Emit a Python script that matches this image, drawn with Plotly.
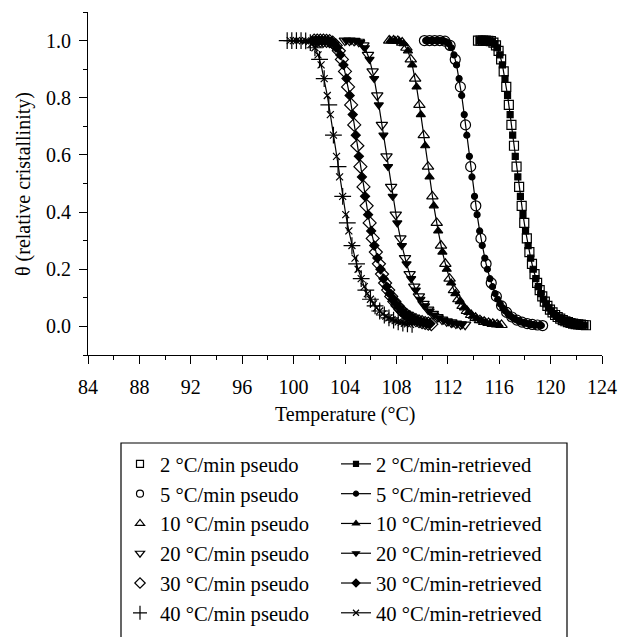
import plotly.graph_objects as go

# ---------------- data ----------------
rates = ["2", "5", "10", "20", "30", "40"]

T_2_pseudo = [114.35, 114.55, 114.75, 114.95, 115.15, 115.35, 115.55, 115.75, 115.95, 116.15,
              116.35, 116.55, 116.75, 116.95, 117.15, 117.35, 117.55, 117.75, 117.95, 118.15,
              118.35, 118.55, 118.75, 118.95, 119.15, 119.35, 119.55, 119.75, 119.95, 120.15,
              120.35, 120.55, 120.75, 120.95, 121.15, 121.35, 121.55, 121.75, 121.95, 122.15,
              122.35, 122.55, 122.75]
th_2_pseudo = [1.000, 1.000, 1.000, 1.000, 0.999, 0.998, 0.993, 0.983, 0.964, 0.934,
               0.892, 0.838, 0.775, 0.705, 0.632, 0.559, 0.488, 0.422, 0.362, 0.308,
               0.260, 0.219, 0.183, 0.152, 0.127, 0.105, 0.087, 0.072, 0.059, 0.049,
               0.040, 0.033, 0.027, 0.022, 0.018, 0.015, 0.012, 0.010, 0.008, 0.007,
               0.006, 0.005, 0.004]
T_2_retr = [114.45, 114.65, 114.85, 115.05, 115.25, 115.45, 115.65, 115.85, 116.05, 116.25,
            116.45, 116.65, 116.85, 117.05, 117.25, 117.45, 117.65, 117.85, 118.05, 118.25,
            118.45, 118.65, 118.85, 119.05, 119.25, 119.45, 119.65, 119.85, 120.05, 120.25,
            120.45, 120.65, 120.85, 121.05, 121.25, 121.45, 121.65, 121.85, 122.05, 122.25,
            122.45, 122.65]
th_2_retr = [1.000, 1.000, 1.000, 1.000, 0.999, 0.996, 0.989, 0.975, 0.950, 0.915,
             0.867, 0.808, 0.741, 0.669, 0.595, 0.523, 0.455, 0.391, 0.334, 0.283,
             0.239, 0.200, 0.167, 0.139, 0.115, 0.095, 0.079, 0.065, 0.054, 0.044,
             0.036, 0.030, 0.024, 0.020, 0.016, 0.014, 0.011, 0.009, 0.007, 0.006,
             0.005, 0.004]

T_5_pseudo = [110.18, 110.58, 110.98, 111.38, 111.78, 112.18, 112.58, 112.98, 113.38, 113.78,
              114.18, 114.58, 114.98, 115.38, 115.78, 116.18, 116.58, 116.98, 117.38, 117.78,
              118.18, 118.58, 118.98, 119.38]
th_5_pseudo = [1.000, 1.000, 1.000, 1.000, 0.998, 0.983, 0.934, 0.838, 0.705, 0.559,
               0.422, 0.308, 0.219, 0.152, 0.105, 0.072, 0.049, 0.033, 0.022, 0.015,
               0.010, 0.007, 0.005, 0.003]
T_5_retr = [110.28, 110.48, 110.68, 110.88, 111.08, 111.28, 111.48, 111.68, 111.88, 112.08,
            112.28, 112.48, 112.68, 112.88, 113.08, 113.28, 113.48, 113.68, 113.88, 114.08,
            114.28, 114.48, 114.68, 114.88, 115.08, 115.28, 115.48, 115.68, 115.88, 116.08,
            116.28, 116.48, 116.68, 116.88, 117.08, 117.28, 117.48, 117.68, 117.88, 118.08,
            118.28, 118.48, 118.68, 118.88, 119.08, 119.28]
th_5_retr = [1.000, 1.000, 1.000, 1.000, 1.000, 1.000, 1.000, 0.999, 0.996, 0.989,
             0.975, 0.950, 0.915, 0.867, 0.808, 0.741, 0.669, 0.595, 0.523, 0.455,
             0.391, 0.334, 0.283, 0.239, 0.200, 0.167, 0.139, 0.115, 0.095, 0.079,
             0.065, 0.054, 0.044, 0.036, 0.030, 0.024, 0.020, 0.016, 0.014, 0.011,
             0.009, 0.007, 0.006, 0.005, 0.004, 0.003]

T_10_pseudo = [107.44, 107.78, 108.11, 108.45, 108.78, 109.12, 109.46, 109.79, 110.13, 110.46,
               110.80, 111.14, 111.47, 111.81, 112.14, 112.48, 112.82, 113.15, 113.49, 113.82,
               114.16, 114.50, 114.83, 115.17, 115.50, 115.84, 116.18]
th_10_pseudo = [1.000, 1.000, 0.999, 0.993, 0.975, 0.934, 0.867, 0.775, 0.669, 0.559,
                0.455, 0.362, 0.283, 0.219, 0.167, 0.127, 0.095, 0.072, 0.054, 0.040,
                0.030, 0.022, 0.016, 0.012, 0.009, 0.007, 0.005]
T_10_retr = [107.55, 107.89, 108.22, 108.56, 108.90, 109.23, 109.57, 109.90, 110.24, 110.58,
             110.91, 111.25, 111.58, 111.92, 112.26, 112.59, 112.93, 113.26, 113.60, 113.94,
             114.27, 114.61, 114.94, 115.28, 115.62, 115.95]
th_10_retr = [1.000, 1.000, 0.998, 0.989, 0.964, 0.915, 0.838, 0.741, 0.632, 0.523,
              0.422, 0.334, 0.260, 0.200, 0.152, 0.115, 0.087, 0.065, 0.049, 0.036,
              0.027, 0.020, 0.015, 0.011, 0.008, 0.006]

T_20_pseudo = [103.99, 104.35, 104.71, 105.07, 105.43, 105.79, 106.15, 106.51, 106.87, 107.23,
               107.59, 107.95, 108.31, 108.67, 109.03, 109.39, 109.75, 110.11, 110.47, 110.83,
               111.19, 111.55, 111.91, 112.27, 112.63, 112.99, 113.35]
th_20_pseudo = [1.000, 1.000, 0.999, 0.996, 0.983, 0.950, 0.892, 0.808, 0.705, 0.595,
                0.488, 0.391, 0.308, 0.239, 0.183, 0.139, 0.105, 0.079, 0.059, 0.044,
                0.033, 0.024, 0.018, 0.014, 0.010, 0.007, 0.006]
T_20_retr = [104.11, 104.47, 104.83, 105.19, 105.55, 105.91, 106.27, 106.63, 106.99, 107.35,
             107.71, 108.07, 108.43, 108.79, 109.15, 109.51, 109.87, 110.23, 110.59, 110.95,
             111.31, 111.67, 112.03, 112.39, 112.75, 113.11]
th_20_retr = [1.000, 1.000, 0.999, 0.993, 0.975, 0.934, 0.867, 0.775, 0.669, 0.559,
              0.455, 0.362, 0.283, 0.219, 0.167, 0.127, 0.095, 0.072, 0.054, 0.040,
              0.030, 0.022, 0.016, 0.012, 0.009, 0.007]

T_30_pseudo = [101.60, 101.84, 102.08, 102.32, 102.56, 102.80, 103.04, 103.28, 103.52, 103.76,
               104.00, 104.24, 104.48, 104.72, 104.96, 105.20, 105.44, 105.68, 105.92, 106.16,
               106.40, 106.64, 106.88, 107.12, 107.36, 107.60, 107.84, 108.08, 108.32, 108.56,
               108.80, 109.04, 109.28, 109.52, 109.76, 110.00, 110.24, 110.48, 110.72]
th_30_pseudo = [1.000, 1.000, 1.000, 1.000, 0.999, 0.998, 0.993, 0.983, 0.964, 0.934,
                0.892, 0.838, 0.775, 0.705, 0.632, 0.559, 0.488, 0.422, 0.362, 0.308,
                0.260, 0.219, 0.183, 0.152, 0.127, 0.105, 0.087, 0.072, 0.059, 0.049,
                0.040, 0.033, 0.027, 0.022, 0.018, 0.015, 0.012, 0.010, 0.008]
T_30_retr = [101.48, 101.72, 101.96, 102.20, 102.44, 102.68, 102.92, 103.16, 103.40, 103.64,
             103.88, 104.12, 104.36, 104.60, 104.84, 105.08, 105.32, 105.56, 105.80, 106.04,
             106.28, 106.52, 106.76, 107.00, 107.24, 107.48, 107.72, 107.96, 108.20, 108.44,
             108.68, 108.92, 109.16, 109.40, 109.64, 109.88, 110.12, 110.36, 110.60]
th_30_retr = [1.000, 1.000, 1.000, 1.000, 1.000, 0.999, 0.996, 0.989, 0.975, 0.950,
              0.915, 0.867, 0.808, 0.741, 0.669, 0.595, 0.523, 0.455, 0.391, 0.334,
              0.283, 0.239, 0.200, 0.167, 0.139, 0.115, 0.095, 0.079, 0.065, 0.054,
              0.044, 0.036, 0.030, 0.024, 0.020, 0.016, 0.014, 0.011, 0.009]

T_40_pseudo = [99.50, 99.86, 100.22, 100.58, 100.94, 101.30, 101.66, 102.02, 102.38, 102.74,
               103.10, 103.46, 103.82, 104.18, 104.54, 104.90, 105.26, 105.62, 105.98, 106.34,
               106.70, 107.06, 107.42, 107.78, 108.14, 108.50, 108.86, 109.22]
th_40_pseudo = [1.000, 1.000, 1.000, 1.000, 0.999, 0.993, 0.975, 0.934, 0.867, 0.775,
                0.669, 0.559, 0.455, 0.362, 0.283, 0.219, 0.167, 0.127, 0.095, 0.072,
                0.054, 0.040, 0.030, 0.022, 0.016, 0.012, 0.009, 0.007]
T_40_retr = [99.74, 99.98, 100.22, 100.46, 100.70, 100.94, 101.18, 101.42, 101.66, 101.90,
             102.14, 102.38, 102.62, 102.86, 103.10, 103.34, 103.58, 103.82, 104.06, 104.30,
             104.54, 104.78, 105.02, 105.26, 105.50, 105.74, 105.98, 106.22, 106.46, 106.70,
             106.94, 107.18, 107.42, 107.66, 107.90, 108.14, 108.38, 108.62, 108.86, 109.10]
th_40_retr = [1.000, 1.000, 1.000, 1.000, 1.000, 0.999, 0.996, 0.989, 0.975, 0.950,
              0.915, 0.867, 0.808, 0.741, 0.669, 0.595, 0.523, 0.455, 0.391, 0.334,
              0.283, 0.239, 0.200, 0.167, 0.139, 0.115, 0.095, 0.079, 0.065, 0.054,
              0.044, 0.036, 0.030, 0.024, 0.020, 0.016, 0.014, 0.011, 0.009, 0.007]

pseudo_T = [T_2_pseudo, T_5_pseudo, T_10_pseudo, T_20_pseudo, T_30_pseudo, T_40_pseudo]
pseudo_th = [th_2_pseudo, th_5_pseudo, th_10_pseudo, th_20_pseudo, th_30_pseudo, th_40_pseudo]
retr_T = [T_2_retr, T_5_retr, T_10_retr, T_20_retr, T_30_retr, T_40_retr]
retr_th = [th_2_retr, th_5_retr, th_10_retr, th_20_retr, th_30_retr, th_40_retr]

x_ticks = [84, 88, 92, 96, 100, 104, 108, 112, 116, 120, 124]
y_ticks = [0.0, 0.2, 0.4, 0.6, 0.8, 1.0]
x_title = "Temperature (°C)"
y_title = "θ (relative cristallinity)"

# ---------------- styles ----------------
FONT = "Liberation Serif"
BLACK = "black"
pseudo_sym = ["square-open", "circle-open", "triangle-up-open", "triangle-down-open",
              "diamond-open", "cross-thin-open"]
pseudo_size = [9, 10, 10, 10, 10, 12]
pseudo_leg_size = [7, 7, 8, 8, 8, 10]
retr_sym = ["square", "circle", "triangle-up", "triangle-down", "diamond", "x-thin-open"]
retr_size = [6, 6, 8, 8, 7, 7]
retr_leg_size = [5, 5, 6, 6, 6, 6]

fig = go.Figure()

# plotted data
for i, r in enumerate(rates):
    fig.add_trace(go.Scatter(
        x=pseudo_T[i], y=pseudo_th[i], mode="markers", showlegend=False,
        name=f"{r} °C/min pseudo",
        marker=dict(symbol=pseudo_sym[i], size=pseudo_size[i], color=BLACK,
                    line=dict(color=BLACK, width=1.2)),
    ))
for i, r in enumerate(rates):
    fig.add_trace(go.Scatter(
        x=retr_T[i], y=retr_th[i], mode="lines+markers", showlegend=False,
        name=f"{r} °C/min-retrieved",
        line=dict(color=BLACK, width=1.2),
        marker=dict(symbol=retr_sym[i], size=retr_size[i], color=BLACK,
                    line=dict(color=BLACK, width=1.2)),
    ))

# legend-only entries (smaller symbols, as in the reference key)
for i, r in enumerate(rates):
    fig.add_trace(go.Scatter(
        x=[None], y=[None], mode="markers",
        name=f"{r} °C/min pseudo", legend="legend", legendgroup=f"p{r}",
        marker=dict(symbol=pseudo_sym[i], size=pseudo_leg_size[i], color=BLACK,
                    line=dict(color=BLACK, width=1.2)),
    ))
for i, r in enumerate(rates):
    fig.add_trace(go.Scatter(
        x=[None], y=[None], mode="lines+markers",
        name=f"{r} °C/min-retrieved", legend="legend2", legendgroup=f"r{r}",
        line=dict(color=BLACK, width=1.2),
        marker=dict(symbol=retr_sym[i], size=retr_leg_size[i], color=BLACK,
                    line=dict(color=BLACK, width=1.2)),
    ))

W, H = 618, 637
L, R, T, B = 88, 16, 12, 282
pw, ph = W - L - R, H - T - B


def px_to_paper_x(px):
    return (px - L) / pw


def px_to_paper_y(py):
    return (H - B - py) / ph


legend_common = dict(
    xref="container", yref="container", xanchor="left", yanchor="top",
    bgcolor="rgba(0,0,0,0)", borderwidth=0,
    font=dict(family=FONT, size=20.6, color=BLACK),
    tracegroupgap=0, orientation="v",
)

fig.update_layout(
    width=W, height=H,
    margin=dict(l=L, r=R, t=T, b=B, autoexpand=False),
    paper_bgcolor="white", plot_bgcolor="white",
    font=dict(family=FONT, size=20, color=BLACK),
    showlegend=True,
    legend=dict(x=120 / W, y=1 - 444 / H, **legend_common),
    legend2=dict(x=336 / W, y=1 - 444 / H, **legend_common),
    xaxis=dict(
        range=[84, 124], tickvals=x_ticks, ticks="outside", ticklen=8, tickwidth=1,
        tickcolor=BLACK, showline=True, linecolor=BLACK, linewidth=1,
        showgrid=False, zeroline=False, ticklabelstandoff=6,
        minor=dict(dtick=2, tick0=84, ticks="outside", ticklen=4, tickwidth=1,
                   tickcolor=BLACK, showgrid=False),
        tickfont=dict(family=FONT, size=20),
    ),
    yaxis=dict(
        range=[-0.1, 1.1], tickvals=y_ticks, tickformat=".1f", ticks="outside",
        ticklen=8, tickwidth=1, tickcolor=BLACK, showline=True, linecolor=BLACK,
        linewidth=1, showgrid=False, zeroline=False, ticklabelstandoff=4,
        minor=dict(dtick=0.1, tick0=0, ticks="outside", ticklen=4, tickwidth=1,
                   tickcolor=BLACK, showgrid=False),
        tickfont=dict(family=FONT, size=20),
    ),
    annotations=[
        dict(text=x_title, xref="paper", yref="paper",
             x=px_to_paper_x(345), y=px_to_paper_y(414), xanchor="center", yanchor="middle",
             showarrow=False, font=dict(family=FONT, size=20, color=BLACK)),
        dict(text=y_title, xref="paper", yref="paper", textangle=-90,
             x=px_to_paper_x(23), y=px_to_paper_y(184), xanchor="center", yanchor="middle",
             showarrow=False, font=dict(family=FONT, size=20, color=BLACK)),
    ],
    shapes=[dict(
        type="rect", xref="paper", yref="paper",
        x0=px_to_paper_x(121), x1=px_to_paper_x(567),
        y0=px_to_paper_y(443), y1=px_to_paper_y(660),
        line=dict(color=BLACK, width=1.2), fillcolor="rgba(0,0,0,0)", layer="above",
    )],
)

fig.write_html("out.html")
